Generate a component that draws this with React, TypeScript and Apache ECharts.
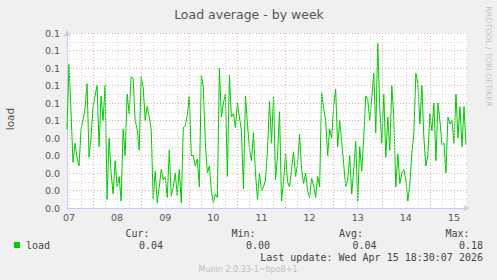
import React, { useEffect, useRef } from "react";
import * as echarts from "echarts";

// time axis: hours counted from day 07 00:00
const START_HOUR = 11;
const STEP_HOURS = 1;
const END_HOUR = 210.5;
const dayLabels = ["07", "08", "09", "10", "11", "12", "13", "14", "15"];

const loadValues = [
  0.045, 0.082, 0.055, 0.026, 0.037, 0.029, 0.024, 0.045, 0.05, 0.057,
  0.071, 0.029, 0.041, 0.058, 0.064, 0.07, 0.035, 0.064, 0.05, 0.07,
  0.005, 0.04, 0.02, 0.008, 0.027, 0.012, 0.018, 0.004, 0.045, 0.03,
  0.065, 0.054, 0.075, 0.074, 0.05, 0.045, 0.033, 0.075, 0.069, 0.05,
  0.058, 0.052, 0.045, 0.005, 0.021, 0.003, 0.012, 0.022, 0.016, 0.018,
  0.006, 0.033, 0.007, 0.012, 0.02, 0.007, 0.022, 0.003, 0.046, 0.047,
  0.053, 0.064, 0.03, 0.03, 0.024, 0.028, 0.012, 0.076, 0.069, 0.037,
  0.02, 0.024, 0.01, 0.003, 0.008, 0.006, 0.08, 0.052, 0.06, 0.065,
  0.018, 0.076, 0.052, 0.054, 0.046, 0.06, 0.052, 0.044, 0.011, 0.064,
  0.048, 0.034, 0.027, 0.043, 0.02, 0.005, 0.02, 0.01, 0.012, 0.016,
  0.033, 0.061, 0.037, 0.064, 0.016, 0.03, 0.055, 0.004, 0.015, 0.031,
  0.015, 0.012, 0.022, 0.032, 0.018, 0.025, 0.042, 0.022, 0.014, 0.02,
  0.01, 0.006, 0.017, 0.013, 0.006, 0.018, 0.012, 0.066, 0.057, 0.05,
  0.03, 0.045, 0.04, 0.058, 0.068, 0.035, 0.05, 0.038, 0.025, 0.012,
  0.016, 0.03, 0.008, 0.022, 0.038, 0.004, 0.035, 0.021, 0.04, 0.064,
  0.062, 0.05, 0.063, 0.077, 0.043, 0.094, 0.057, 0.037, 0.065, 0.029,
  0.052, 0.033, 0.07, 0.052, 0.012, 0.031, 0.014, 0.02, 0.022, 0.016,
  0.004, 0.014, 0.031, 0.043, 0.077, 0.071, 0.048, 0.07, 0.04, 0.024,
  0.03, 0.054, 0.044, 0.06, 0.027, 0.06, 0.05, 0.036, 0.037, 0.02,
  0.052, 0.048, 0.05, 0.037, 0.065, 0.04, 0.058, 0.035, 0.058, 0.036,
];

const statLabels = ["Cur:", "Min:", "Avg:", "Max:"];
const statValues = ["0.04", "0.00", "0.04", "0.18"];
const lastUpdate = "Last update: Wed Apr 15 18:30:07 2026";

const SANS = '"DejaVu Sans", sans-serif';
const MONO = '"DejaVu Sans Mono", monospace';

export default function App() {
  const ref = useRef<HTMLDivElement>(null);
  useEffect(() => {
    if (!ref.current) return;
    const chart = echarts.init(ref.current, undefined, { renderer: "svg" });

    const minorHours: number[] = [];
    const majorHours: number[] = [];
    for (let h = 0; h <= END_HOUR; h += 6) {
      if (h <= START_HOUR) continue;
      if (h % 24 === 0) majorHours.push(h);
      else minorHours.push(h);
    }
    const labelHours = dayLabels.map((_, i) => 12 + 24 * i);

    const statRightLabel = [149.5, 255.5, 363, 469.5];
    const statRightValue = [163, 270, 376.5, 483];

    const graphics: any[] = [
      {
        type: "text", x: 249, y: 14,
        style: { text: "Load average - by week", fill: "#555", font: `12.5px ${SANS}`, align: "center", verticalAlign: "middle" },
      },
      {
        type: "text", x: 488.5, y: 56.5, rotation: -Math.PI / 2,
        style: { text: "RRDTOOL / TOBI OETIKER", fill: "#c4c4c4", font: `7.8px ${SANS}`, align: "center", verticalAlign: "middle" },
      },
      {
        type: "text", x: 10, y: 119, rotation: Math.PI / 2,
        style: { text: "load", fill: "#555", font: `10.5px ${SANS}`, align: "center", verticalAlign: "middle" },
      },
      { type: "rect", shape: { x: 14, y: 242, width: 6, height: 6 }, style: { fill: "#00cc00" } },
      {
        type: "text", x: 26, y: 245.5,
        style: { text: "load", fill: "#444", font: `10px ${MONO}`, align: "left", verticalAlign: "middle" },
      },
      {
        type: "text", x: 483, y: 257.5,
        style: { text: lastUpdate, fill: "#444", font: `10px ${MONO}`, align: "right", verticalAlign: "middle" },
      },
      {
        type: "text", x: 248, y: 269,
        style: { text: "Munin 2.0.33-1~bpo8+1", fill: "#c0c0c0", font: `8px ${SANS}`, align: "center", verticalAlign: "middle" },
      },
    ];
    statLabels.forEach((t, i) => {
      graphics.push({
        type: "text", x: statRightLabel[i], y: 233.5,
        style: { text: t, fill: "#444", font: `10px ${MONO}`, align: "right", verticalAlign: "middle" },
      });
      graphics.push({
        type: "text", x: statRightValue[i], y: 245.5,
        style: { text: statValues[i], fill: "#444", font: `10px ${MONO}`, align: "right", verticalAlign: "middle" },
      });
    });

    const axisColor = "#c8c8f0";
    const majorStyle = { color: "#f0a8a8", width: 1, type: [1, 2] };
    const minorStyle = { color: "#d6d6d6", width: 1, type: [1, 2] };

    chart.setOption({
      animation: false,
      backgroundColor: "#f0f0f0",
      grid: { left: 67, top: 33, width: 400, height: 175, show: true, backgroundColor: "#ffffff", borderWidth: 0 },
      xAxis: {
        type: "value",
        min: START_HOUR,
        max: END_HOUR,
        axisLine: { show: true, symbol: ["none", "arrow"], symbolSize: [5, 7], symbolOffset: [0, 3], lineStyle: { color: axisColor, width: 1 } },
        axisTick: { show: false },
        splitLine: { show: false },
        axisLabel: {
          show: true,
          customValues: labelHours,
          formatter: (v: number) => {
            const i = labelHours.indexOf(Math.round(v));
            return i >= 0 ? dayLabels[i] : "";
          },
          color: "#555",
          fontFamily: SANS,
          fontSize: 9.5,
          margin: 4,
        },
      },
      yAxis: {
        type: "value",
        min: 0,
        max: 0.1,
        interval: 0.01,
        axisLine: { show: true, symbol: ["none", "arrow"], symbolSize: [5, 7], symbolOffset: [0, 3], lineStyle: { color: axisColor, width: 1 } },
        axisTick: { show: false },
        axisLabel: {
          color: "#555",
          fontFamily: SANS,
          fontSize: 9.5,
          margin: 7,
          formatter: (v: number) => (Math.round(v * 10 + 1e-6) / 10).toFixed(1),
        },
        splitLine: { show: true, lineStyle: majorStyle },
        minorTick: { show: false, splitNumber: 2 },
        minorSplitLine: { show: true, lineStyle: minorStyle },
      },
      series: [
        {
          type: "line",
          data: [],
          z: 1,
          silent: true,
          markLine: {
            silent: true,
            symbol: ["none", "none"],
            label: { show: false },
            emphasis: { disabled: true },
            animation: false,
            data: [
              ...minorHours.map((h) => ({ xAxis: h, lineStyle: minorStyle })),
              ...majorHours.map((h) => ({ xAxis: h, lineStyle: majorStyle })),
            ],
          },
        },
        {
          type: "line",
          z: 3,
          data: loadValues.map((v, i) => [START_HOUR + i * STEP_HOURS, v]),
          showSymbol: false,
          symbol: "none",
          lineStyle: { color: "#00cc00", width: 1 },
          silent: true,
        },
      ],
      graphic: graphics,
    });
    return () => chart.dispose();
  }, []);
  return <div ref={ref} style={{ position: "fixed", left: 0, top: 0, width: 497, height: 280 }} />;
}
